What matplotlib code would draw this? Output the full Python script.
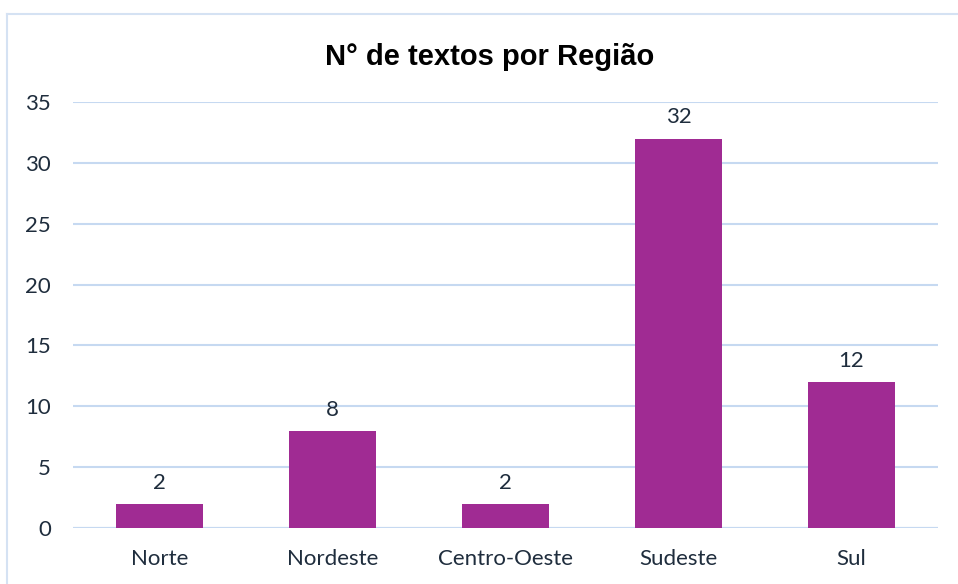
import matplotlib.pyplot as plt
from matplotlib.lines import Line2D

regioes = ['Norte', 'Nordeste', 'Centro-Oeste', 'Sudeste', 'Sul']
textos = [2, 8, 2, 32, 12]

bar_color = '#A02B93'
text_color = '#1F2D3D'
grid_color = '#C6D9F1'

fig = plt.figure(figsize=(9.58, 5.84), dpi=100)
ax = fig.add_axes([0.0762, 0.0959, 0.9028, 0.7294])

x = range(len(regioes))
bars = ax.bar(x, textos, width=0.5, color=bar_color, zorder=3)

ax.set_xlim(-0.5, len(regioes) - 0.5)
ax.set_ylim(0, 35)
ax.set_yticks(range(0, 36, 5))
ax.set_xticks(list(x))
ax.set_xticklabels(regioes)

for spine in ax.spines.values():
    spine.set_visible(False)
ax.yaxis.grid(True, color=grid_color, linewidth=1.5, zorder=0)
ax.axhline(0, color=grid_color, linewidth=1.5, zorder=1)
ax.tick_params(axis='both', length=0, labelsize=16, labelcolor=text_color)
ax.tick_params(axis='y', pad=16)
ax.tick_params(axis='x', pad=15)
for lbl in ax.get_xticklabels() + ax.get_yticklabels():
    lbl.set_family('Lato')

for b, v in zip(bars, textos):
    ax.annotate(str(v), (b.get_x() + b.get_width() / 2, v), xytext=(0, 8),
                textcoords='offset points', ha='center', va='bottom',
                fontsize=16, color=text_color, family='Lato')

fig.text(0.511, 0.903, 'N° de textos por Região', ha='center', va='center',
         fontsize=21, fontweight='bold', family='Liberation Sans', color='black')

# chart border (top and left edge visible)
fig.add_artist(Line2D([7 / 958, 1], [1 - 14 / 584] * 2, transform=fig.transFigure,
                      color='#D5E2F3', linewidth=1.5))
fig.add_artist(Line2D([7 / 958] * 2, [0, 1 - 14 / 584], transform=fig.transFigure,
                      color='#D5E2F3', linewidth=1.5))

fig.savefig('out.png', dpi=100)
